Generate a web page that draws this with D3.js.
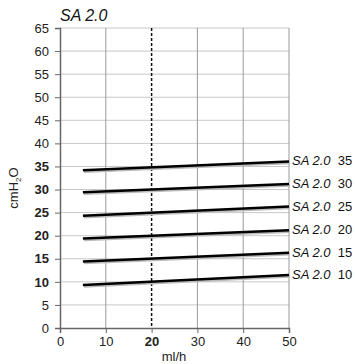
<!DOCTYPE html>
<html>
<head>
<meta charset="utf-8">
<script src="https://cdn.jsdelivr.net/npm/d3@7"></script>
<style>
  body { margin: 0; background: #fff; }
  text { font-family: "Liberation Sans", Arial, sans-serif; }
</style>
</head>
<body>
<svg id="chart" width="355" height="364"></svg>
<script>
// series: nominal setting, value at x=5 and x=50 ml/h
const series = [35, 30, 25, 20, 15, 10];
const flowPoints = [5, 50];
const pressures = [
  [34.2, 36.1],
  [29.4, 31.2],
  [24.3, 26.3],
  [19.4, 21.2],
  [14.4, 16.3],
  [9.3, 11.5],
];
const xTicks = [0, 10, 20, 30, 40, 50];
const yTicks = d3.range(0, 66, 5);
const boldY = [10, 15, 20, 25, 30, 35];
const boldX = [20];

const svg = d3.select("#chart");
const margin = { top: 28, right: 66, bottom: 36, left: 60 };
const width = 289 - margin.left;
const height = 328 - margin.top;

const x = d3.scaleLinear().domain([0, 50]).range([0, width]);
const y = d3.scaleLinear().domain([0, 65]).range([height, 0]);

const g = svg.append("g").attr("transform", `translate(${margin.left},${margin.top})`);

// grid
g.selectAll(".hgrid").data(yTicks.filter(d => d > 0)).enter().append("line")
  .attr("x1", 0).attr("x2", width)
  .attr("y1", d => y(d)).attr("y2", d => y(d))
  .attr("stroke", "#c8c8c8").attr("stroke-width", 1);
g.selectAll(".vgrid").data(xTicks.filter(d => d > 0 && d !== 20)).enter().append("line")
  .attr("x1", d => x(d)).attr("x2", d => x(d))
  .attr("y1", 0).attr("y2", height)
  .attr("stroke", "#9a9a9a").attr("stroke-width", 1);
g.append("line")
  .attr("x1", x(20)).attr("x2", x(20)).attr("y1", 0).attr("y2", height)
  .attr("stroke", "#111").attr("stroke-width", 1.5).attr("stroke-dasharray", "3,2");

// axes
const yAxis = g.append("g").call(d3.axisLeft(y).tickValues(yTicks).tickSize(5).tickPadding(6));
const xAxis = g.append("g").attr("transform", `translate(0,${height})`)
  .call(d3.axisBottom(x).tickValues(xTicks).tickSize(5).tickPadding(4));
[yAxis, xAxis].forEach(ax => {
  ax.select(".domain").attr("stroke", "#666").attr("stroke-width", 1.5);
  ax.selectAll(".tick line").attr("stroke", "#666");
  ax.selectAll("text").attr("font-size", 13).attr("fill", "#222")
    .style("font-family", "'Liberation Sans', Arial, sans-serif");
});
yAxis.selectAll(".tick text").attr("font-weight", d => boldY.includes(d) ? "bold" : "normal");
xAxis.selectAll(".tick text").attr("font-weight", d => boldX.includes(d) ? "bold" : "normal");

// lines
const line = d3.line().x(d => x(d[0])).y(d => y(d[1]));
pressures.forEach((vals, i) => {
  const pts = flowPoints.map((f, j) => [f, vals[j]]);
  g.append("path").datum(pts).attr("d", line)
    .attr("transform", "translate(1,1.5)")
    .attr("fill", "none").attr("stroke", "#bbb").attr("stroke-width", 2.5);
  g.append("path").datum(pts).attr("d", line)
    .attr("fill", "none").attr("stroke", "#000").attr("stroke-width", 2.5);
  const t = g.append("text")
    .attr("x", width + 3).attr("y", y(vals[vals.length - 1]) + 4)
    .attr("font-size", 13).attr("fill", "#111");
  t.append("tspan").attr("font-style", "italic").text("SA 2.0");
  t.append("tspan").text("\u00a0 " + series[i]);
});

// title
svg.append("text").attr("x", 60).attr("y", 21)
  .attr("font-size", 16).attr("font-style", "italic").attr("fill", "#111").text("SA 2.0");

// axis labels
svg.append("text").attr("x", 174).attr("y", 361).attr("text-anchor", "middle")
  .attr("font-size", 13).attr("fill", "#222").text("ml/h");
const yl = svg.append("text").attr("transform", "translate(18,188) rotate(-90)")
  .attr("text-anchor", "middle").attr("font-size", 13).attr("fill", "#222");
yl.append("tspan").text("cmH");
yl.append("tspan").attr("font-size", 8).attr("dy", 3).text("2");
yl.append("tspan").attr("dy", -3).text("O");
</script>
</body>
</html>
